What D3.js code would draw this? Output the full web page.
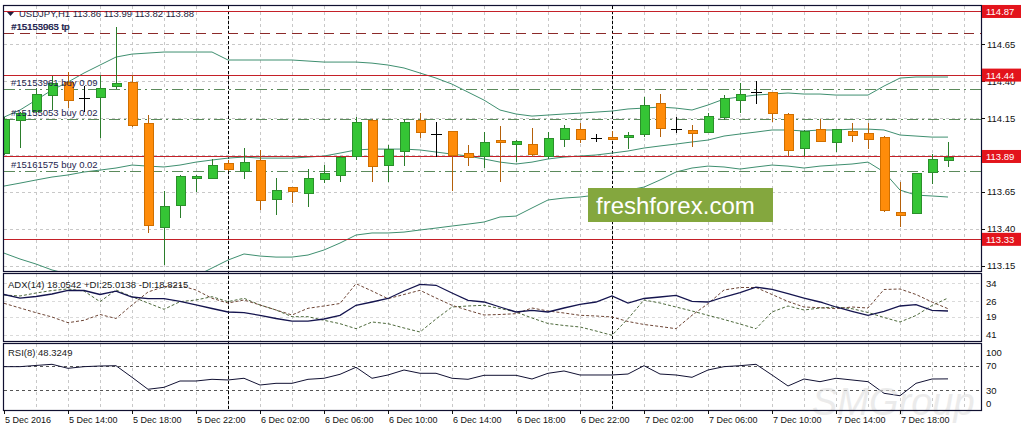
<!DOCTYPE html>
<html lang="en">
<head>
<meta charset="UTF-8">
<title>USDJPY,H1</title>
<style>
  body { margin: 0; background: #fff; }
  svg { display: block; }
  text { font-family: "Liberation Sans", Arial, sans-serif; }
</style>
</head>
<body>
<div id="my_chart"></div>
<script src="https://cdnjs.cloudflare.com/ajax/libs/d3/7.8.5/d3.min.js"></script>
<script>
// ---- data (H1 bars, 5 Dec 10:00 .. 7 Dec 21:00) ----
var opens = [113.913,114.131,114.192,114.300,114.391,114.283,114.287,114.361,114.391,114.114,
  113.411,113.557,113.739,113.742,113.844,113.787,113.866,113.596,113.679,113.641,
  113.736,113.760,113.888,114.136,113.827,113.922,114.136,114.040,114.057,113.911,
  113.888,113.996,113.972,113.972,113.888,114.006,114.073,114.012,114.019,114.017,
  114.040,114.249,114.073,114.064,114.053,114.154,114.267,114.327,114.323,114.177,
  113.945,114.073,113.983,114.062,114.042,114.019,113.512,113.506,113.780,113.860];
var highs = [114.156,114.192,114.352,114.433,114.463,114.366,114.440,114.767,114.440,114.170,
  113.656,113.765,113.765,113.871,113.866,113.945,113.934,113.742,113.683,113.803,
  113.832,113.893,114.154,114.141,113.967,114.141,114.185,114.121,114.062,113.967,
  114.057,114.096,114.001,114.080,114.057,114.102,114.114,114.042,114.062,114.057,
  114.290,114.312,114.154,114.102,114.181,114.305,114.384,114.402,114.325,114.181,
  114.069,114.141,114.075,114.114,114.114,114.028,113.719,113.780,113.904,113.990];
var lows = [113.900,113.945,114.183,114.204,114.215,114.192,114.012,114.344,114.091,113.371,
  113.156,113.474,113.652,113.738,113.792,113.738,113.528,113.494,113.573,113.546,
  113.712,113.715,113.866,113.719,113.719,113.825,114.012,113.888,113.658,113.825,
  113.810,113.719,113.854,113.888,113.871,113.952,113.983,113.990,114.001,113.938,
  114.023,114.019,114.050,113.952,114.048,114.136,114.181,114.244,114.125,113.893,
  113.893,113.985,113.922,113.990,113.938,113.512,113.411,113.506,113.702,113.820];
var closes = [114.143,114.181,114.310,114.384,114.271,114.283,114.350,114.384,114.098,113.422,
  113.555,113.758,113.758,113.832,113.803,113.850,113.591,113.663,113.652,113.742,
  113.776,113.884,114.121,113.821,113.934,114.121,114.053,114.040,113.895,113.884,
  113.985,113.985,113.990,113.900,114.012,114.080,114.006,114.012,114.010,114.035,
  114.233,114.080,114.073,114.042,114.158,114.283,114.312,114.327,114.181,113.929,
  114.062,113.990,114.073,114.030,114.008,113.523,113.490,113.776,113.871,113.880];

var bbUpper = [114.156,114.204,114.271,114.339,114.393,114.454,114.508,114.562,114.582,114.589,
  114.596,114.596,114.596,114.596,114.542,114.542,114.542,114.542,114.542,114.535,
  114.528,114.528,114.528,114.521,114.508,114.488,114.454,114.420,114.379,114.325,
  114.271,114.204,114.177,114.163,114.170,114.177,114.183,114.190,114.197,114.211,
  114.217,114.224,114.217,114.204,114.238,114.278,114.292,114.305,114.312,114.319,
  114.312,114.312,114.305,114.305,114.305,114.366,114.420,114.427,114.427,114.427];
var bbMiddle = [113.690,113.710,113.731,113.751,113.765,113.785,113.798,113.812,113.832,113.825,
  113.819,113.832,113.852,113.866,113.879,113.886,113.879,113.879,113.879,113.886,
  113.893,113.913,113.934,113.940,113.940,113.940,113.934,113.920,113.906,113.893,
  113.873,113.852,113.839,113.852,113.873,113.886,113.893,113.900,113.913,113.927,
  113.947,113.961,113.974,113.988,114.001,114.028,114.042,114.055,114.069,114.069,
  114.062,114.069,114.069,114.075,114.075,114.069,114.035,114.028,114.021,114.021];
var bbLower = [113.237,113.197,113.163,113.123,113.096,113.075,113.062,113.048,113.041,113.041,
  113.048,113.062,113.082,113.136,113.190,113.231,113.217,113.210,113.210,113.224,
  113.258,113.305,113.359,113.373,113.373,113.379,113.393,113.406,113.420,113.433,
  113.447,113.481,113.487,113.542,113.596,113.609,113.616,113.629,113.643,113.663,
  113.683,113.731,113.785,113.812,113.825,113.819,113.805,113.819,113.832,113.825,
  113.812,113.825,113.832,113.839,113.852,113.785,113.663,113.629,113.623,113.616];

var adx = [29.04,27.38,28.15,29.27,30.92,30.83,29.04,30.52,27.92,27.16,
  27.16,26.00,24.34,22.77,21.20,20.89,19.72,18.29,17.08,17.08,
  18.06,19.72,24.20,25.68,27.25,30.61,33.61,33.17,29.71,26.44,
  25.68,23.44,21.20,21.96,21.20,22.99,24.65,25.68,28.37,25.23,
  27.25,27.92,28.68,26.00,25.68,27.92,29.85,32.31,31.37,29.40,
  27.47,25.68,23.44,21.51,19.72,21.51,23.89,24.47,21.96,21.65];
var plusDI = [28.82,28.37,29.71,30.83,31.51,30.61,25.82,31.06,28.06,25.23,
  22.41,25.82,26.58,28.06,25.82,27.34,24.34,22.10,19.09,19.09,
  17.48,15.96,13.72,16.72,15.96,14.03,12.24,18.06,23.44,23.89,
  24.20,22.77,21.20,18.51,16.05,15.15,14.48,12.69,10.76,18.20,
  26.58,25.23,23.44,21.65,19.72,17.84,15.82,13.72,21.20,23.89,
  22.10,22.99,23.44,22.68,20.98,18.74,16.72,19.63,24.11,27.47];
var minusDI = [25.10,22.99,20.89,18.96,16.41,17.48,20.08,18.29,24.34,30.16,
  32.54,33.08,31.06,27.34,25.23,26.58,24.34,22.10,19.86,22.86,
  23.89,25.01,33.88,30.61,27.16,29.04,30.92,27.47,24.20,21.96,
  19.86,20.08,20.44,22.99,21.65,20.75,19.72,19.41,18.96,16.94,
  15.60,14.70,13.72,19.72,24.92,31.06,32.18,32.18,29.04,25.91,
  23.44,23.13,22.68,23.44,22.99,31.28,31.51,29.04,25.68,22.68];

var rsi = [68.4,68.4,70.4,72.3,65.7,68.4,69.5,70.0,50.9,31.2,
  34.4,44.8,44.8,47.6,46.5,49.3,38.2,41.0,41.0,47.6,
  49.3,55.8,67.4,49.3,54.7,62.9,57.5,57.5,49.3,47.6,
  54.2,54.2,54.2,48.1,57.5,61.3,54.7,54.7,54.7,56.3,
  70.0,56.3,54.7,50.9,62.9,68.4,70.0,72.3,54.7,36.6,
  48.1,43.7,49.3,46.5,43.7,24.6,20.6,41.0,48.1,48.3];

var timeLabels = ["5 Dec 2016","5 Dec 14:00","5 Dec 18:00","5 Dec 22:00","6 Dec 02:00",
  "6 Dec 06:00","6 Dec 10:00","6 Dec 14:00","6 Dec 18:00","6 Dec 22:00",
  "7 Dec 02:00","7 Dec 06:00","7 Dec 10:00","7 Dec 14:00","7 Dec 18:00"];
var separatorBars = [14, 38];

var priceTicks = [114.65, 114.40, 114.15, 113.90, 113.65, 113.40, 113.15];
var redLevels = [114.87, 114.44, 113.89, 113.33];

var orderLabels = ["#15153963 tp", "#15155085 tp", "#15153961 buy 0.09", "#15155053 buy 0.02", "#15161575 buy 0.02"];
var orderPrices = [114.724, 114.724, 114.344, 114.141, 113.792];
var orderKinds = ["tp", "tp", "buy", "buy", "buy"];

var adxTicks = [34, 26, 19, 11];
var adxTickText = ["34", "26", "19", "41"];
var rsiTicks = [100, 70, 30, 0];
var rsiLevels = [70, 30];

// ---- layout ----
var width = 1023, height = 429;
var left = 4, right = 981;
var mainTop = 6, mainBottom = 271, adxTop = 274, adxBottom = 341, rsiTop = 344, rsiBottom = 410;

var svg = d3.select("#my_chart").append("svg")
    .attr("width", width)
    .attr("height", height);
svg.append("rect").attr("width", width).attr("height", height).attr("fill", "#fff");

var x = d3.scaleLinear().domain([0, 59]).range([4, 948]);
var y = d3.scaleLinear().domain([113.116, 114.907]).range([mainBottom, mainTop]);
var yAdx = d3.scaleLinear().domain([8.2, 37.78]).range([adxBottom, adxTop + 1]);
var yRsi = d3.scaleLinear().domain([-2.9, 105.7]).range([rsiBottom, rsiTop]);

var defs = svg.append("defs");
[["clipMain", mainTop, mainBottom], ["clipAdx", adxTop, adxBottom], ["clipRsi", rsiTop, rsiBottom]].forEach(function (c) {
    defs.append("clipPath").attr("id", c[0]).append("rect")
        .attr("x", left).attr("y", c[1]).attr("width", right - left).attr("height", c[2] - c[1]);
});

// grid (every 2 bars vertically)
var gridBars = d3.range(2, 62, 2);
[[mainTop, mainBottom], [adxTop, adxBottom], [rsiTop, rsiBottom]].forEach(function (p) {
    svg.append("g").selectAll("line").data(gridBars).join("line")
        .attr("x1", function (d) { return Math.round(x(d)) + 0.5; })
        .attr("x2", function (d) { return Math.round(x(d)) + 0.5; })
        .attr("y1", p[0]).attr("y2", p[1])
        .attr("stroke", "#c8c8c8").attr("stroke-dasharray", "3,3");
});
svg.append("g").selectAll("line").data(priceTicks).join("line")
    .attr("x1", left).attr("x2", right)
    .attr("y1", function (d) { return Math.round(y(d)) + 0.5; })
    .attr("y2", function (d) { return Math.round(y(d)) + 0.5; })
    .attr("stroke", "#c8c8c8").attr("stroke-dasharray", "3,3");
svg.append("g").selectAll("line").data(adxTicks).join("line")
    .attr("x1", left).attr("x2", right)
    .attr("y1", function (d) { return Math.round(yAdx(d)) + 0.5; })
    .attr("y2", function (d) { return Math.round(yAdx(d)) + 0.5; })
    .attr("stroke", "#dadada").attr("stroke-dasharray", "3,3");

// rsi levels
svg.append("g").selectAll("line").data(rsiLevels).join("line")
    .attr("x1", left).attr("x2", right)
    .attr("y1", function (d) { return Math.round(yRsi(d)) + 0.5; })
    .attr("y2", function (d) { return Math.round(yRsi(d)) + 0.5; })
    .attr("stroke", "#555").attr("stroke-dasharray", "3,3");

// day separators
svg.append("g").selectAll("line").data(separatorBars).join("line")
    .attr("x1", function (d) { return x(d) + 0.5; })
    .attr("x2", function (d) { return x(d) + 0.5; })
    .attr("y1", mainTop).attr("y2", rsiBottom)
    .attr("stroke", "#000").attr("stroke-dasharray", "3,2");

// ---- main panel ----
var gMain = svg.append("g").attr("clip-path", "url(#clipMain)");

var bbLine = d3.line().x(function (d, i) { return x(i); }).y(function (d) { return y(d); });
[bbUpper, bbMiddle, bbLower].forEach(function (arr) {
    gMain.append("path").attr("d", bbLine(arr))
        .attr("fill", "none").attr("stroke", "#3f8f70").attr("stroke-width", 1);
});

// order lines
gMain.selectAll(".order").data(orderPrices).join("line")
    .attr("class", "order")
    .attr("x1", left).attr("x2", right)
    .attr("y1", function (d) { return Math.round(y(d)) + 0.5; })
    .attr("y2", function (d) { return Math.round(y(d)) + 0.5; })
    .attr("stroke", function (d, i) { return orderKinds[i] == "tp" ? "#8c2a2a" : "#5b8a5b"; })
    .attr("stroke-dasharray", function (d, i) { return orderKinds[i] == "tp" ? "10,6" : "11,4,2,4"; });

// red price levels
gMain.selectAll(".level").data(redLevels).join("line")
    .attr("class", "level")
    .attr("x1", left).attr("x2", right)
    .attr("y1", function (d) { return Math.round(y(d)) + 0.5; })
    .attr("y2", function (d) { return Math.round(y(d)) + 0.5; })
    .attr("stroke", "#c42028").attr("stroke-width", 1);

// watermark box
gMain.append("rect").attr("x", 588).attr("y", 188).attr("width", 185).attr("height", 34).attr("fill", "#84a73e");
gMain.append("text").attr("x", 596).attr("y", 214)
    .attr("fill", "#fff").attr("font-size", 24).attr("font-family", "'Open Sans', sans-serif")
    .text("freshforex.com");

// candles
var candles = opens.map(function (o, i) {
    return { i: i, o: o, h: highs[i], l: lows[i], c: closes[i] };
});
function kind(d) { return d.c > d.o ? "up" : (d.c < d.o ? "down" : "doji"); }
var wickColor = { up: "#2b7d2b", down: "#b4600a", doji: "#000" };
var bodyFill = { up: "#35c535", down: "#ff8c0a", doji: "#000" };
var bodyStroke = { up: "#2b8f2b", down: "#d06f00", doji: "#000" };

var gc = gMain.append("g").attr("shape-rendering", "crispEdges");
gc.selectAll(".wick").data(candles).join("line")
    .attr("class", "wick")
    .attr("x1", function (d) { return x(d.i) + 0.5; })
    .attr("x2", function (d) { return x(d.i) + 0.5; })
    .attr("y1", function (d) { return y(d.h); })
    .attr("y2", function (d) { return y(d.l); })
    .attr("stroke", function (d) { return wickColor[kind(d)]; });
gc.selectAll(".body").data(candles.filter(function (d) { return kind(d) != "doji"; })).join("rect")
    .attr("class", "body")
    .attr("x", function (d) { return x(d.i) - 4; })
    .attr("width", 9)
    .attr("y", function (d) { return y(Math.max(d.o, d.c)); })
    .attr("height", function (d) { return Math.max(2, Math.abs(y(d.o) - y(d.c))); })
    .attr("fill", function (d) { return bodyFill[kind(d)]; })
    .attr("stroke", function (d) { return bodyStroke[kind(d)]; });
gc.selectAll(".doji").data(candles.filter(function (d) { return kind(d) == "doji"; })).join("line")
    .attr("class", "doji")
    .attr("x1", function (d) { return x(d.i) - 5; })
    .attr("x2", function (d) { return x(d.i) + 6; })
    .attr("y1", function (d) { return Math.round(y(d.o)) + 0.5; })
    .attr("y2", function (d) { return Math.round(y(d.o)) + 0.5; })
    .attr("stroke", "#000");

// order labels
svg.append("g").selectAll("text").data(orderLabels).join("text")
    .attr("x", function (d, i) { return i == 1 ? 11.6 : 11; })
    .attr("y", function (d, i) { return y(orderPrices[i]) - 3; })
    .attr("font-size", 9.5).attr("fill", "#1e1e4e")
    .text(function (d) { return d; });

// header
svg.append("path").attr("d", "M7,12 L14,12 L10.5,16 Z").attr("fill", "#1e1e3e");
svg.append("text").attr("x", 19).attr("y", 17).attr("font-size", 9.5).attr("fill", "#1e1e3e")
    .text("USDJPY,H1  113.86 113.99 113.82 113.88");

// ---- ADX panel ----
var gAdx = svg.append("g").attr("clip-path", "url(#clipAdx)");
var adxLine = d3.line().x(function (d, i) { return x(i); }).y(function (d) { return yAdx(d); });
gAdx.append("path").attr("d", adxLine(plusDI)).attr("fill", "none")
    .attr("stroke", "#4e6a3c").attr("stroke-dasharray", "3,2");
gAdx.append("path").attr("d", adxLine(minusDI)).attr("fill", "none")
    .attr("stroke", "#6e4636").attr("stroke-dasharray", "3,2");
gAdx.append("path").attr("d", adxLine(adx)).attr("fill", "none")
    .attr("stroke", "#15154f").attr("stroke-width", 1.3);
svg.append("text").attr("x", 8).attr("y", 288).attr("font-size", 9.5).attr("fill", "#222")
    .text("ADX(14) 18.0542 +DI:25.0138 -DI:18.8215");

// ---- RSI panel ----
var gRsi = svg.append("g").attr("clip-path", "url(#clipRsi)");
var rsiLine = d3.line().x(function (d, i) { return x(i); }).y(function (d) { return yRsi(d); });
gRsi.append("path").attr("d", rsiLine(rsi)).attr("fill", "none")
    .attr("stroke", "#111133").attr("stroke-width", 1);
svg.append("text").attr("x", 8).attr("y", 356).attr("font-size", 9.5).attr("fill", "#222")
    .text("RSI(8) 48.3249");

// faint corner watermark
svg.append("text").attr("x", 812).attr("y", 415)
    .attr("font-size", 38).attr("font-style", "italic").attr("font-family", "'DejaVu Sans', sans-serif")
    .attr("fill", "#dedede").attr("opacity", 0.6)
    .text("SMGroup");

// panel borders
[[mainTop, mainBottom], [adxTop, adxBottom], [rsiTop, rsiBottom]].forEach(function (p) {
    svg.append("rect").attr("x", left - 0.5).attr("y", p[0] - 0.5)
        .attr("width", right - left + 1).attr("height", p[1] - p[0] + 1)
        .attr("fill", "none").attr("stroke", "#101030").attr("stroke-width", 1.2);
});

// ---- right axes ----
var axisG = svg.append("g").attr("font-size", 9.5).attr("fill", "#111");
axisG.selectAll(".pt").data(priceTicks).join("text")
    .attr("class", "pt")
    .attr("x", 987).attr("y", function (d) { return y(d) + 3.5; })
    .text(function (d) { return d.toFixed(2); });
svg.append("g").selectAll("line").data(priceTicks).join("line")
    .attr("x1", right).attr("x2", right + 4)
    .attr("y1", function (d) { return Math.round(y(d)) + 0.5; })
    .attr("y2", function (d) { return Math.round(y(d)) + 0.5; })
    .attr("stroke", "#111");

var redG = svg.append("g");
redG.selectAll("rect").data(redLevels).join("rect")
    .attr("x", 982).attr("width", 39)
    .attr("y", function (d) { return y(d) - 6.5; })
    .attr("height", 13)
    .attr("fill", "#e3141c");
redG.selectAll("text").data(redLevels).join("text")
    .attr("x", 986).attr("y", function (d) { return y(d) + 3.5; })
    .attr("font-size", 9.5).attr("fill", "#fff")
    .text(function (d) { return d.toFixed(2); });

axisG.selectAll(".at").data(adxTicks).join("text")
    .attr("class", "at")
    .attr("x", 986).attr("y", function (d) { return yAdx(d) + 3.5; })
    .text(function (d, i) { return adxTickText[i]; });
axisG.selectAll(".rt").data(rsiTicks).join("text")
    .attr("class", "rt")
    .attr("x", 986)
    .attr("y", function (d) {
        var yy = Math.min(Math.max(yRsi(d), rsiTop + 8), rsiBottom - 7);
        return yy + 3.5;
    })
    .text(function (d) { return d; });

// ---- time axis ----
var labelBars = timeLabels.map(function (t, i) { return i * 4; });
svg.append("g").selectAll("line").data(labelBars).join("line")
    .attr("x1", function (d) { return x(d) + 0.5; })
    .attr("x2", function (d) { return x(d) + 0.5; })
    .attr("y1", rsiBottom).attr("y2", rsiBottom + 4)
    .attr("stroke", "#111");
svg.append("g").selectAll("text").data(labelBars).join("text")
    .attr("x", function (d) { return x(d) + 1; })
    .attr("y", 423)
    .attr("font-size", 9)
    .attr("fill", "#111")
    .text(function (d, i) { return timeLabels[i]; });
</script>
</body>
</html>
